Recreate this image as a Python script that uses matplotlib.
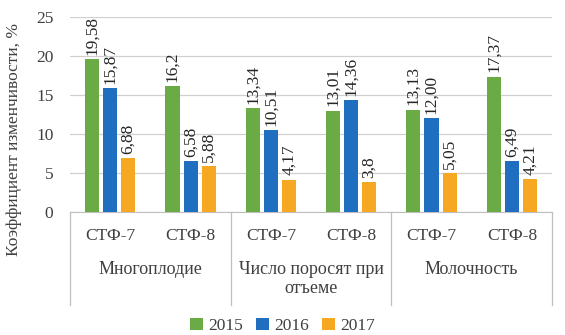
import numpy as np
import matplotlib.pyplot as plt
import matplotlib.transforms as mtransforms

plt.rcParams['font.family'] = ['Liberation Serif', 'DejaVu Serif']

groups = ['Многоплодие', 'Число поросят при\nотъеме', 'Молочность']
subgroups = ['СТФ-7', 'СТФ-8']
years = ['2015', '2016', '2017']
v2015 = [19.58, 16.2, 13.34, 13.01, 13.13, 17.37]
v2016 = [15.87, 6.58, 10.51, 14.36, 12.00, 6.49]
v2017 = [6.88, 5.88, 4.17, 3.8, 5.05, 4.21]
labels2015 = ['19,58', '16,2', '13,34', '13,01', '13,13', '17,37']
labels2016 = ['15,87', '6,58', '10,51', '14,36', '12,00', '6,49']
labels2017 = ['6,88', '5,88', '4,17', '3,8', '5,05', '4,21']

colors = ['#6AAB45', '#1F6EC0', '#F7A823']
fs = 12.5

fig = plt.figure(figsize=(5.65, 3.35), dpi=100)
ax = fig.add_axes([0.124, 0.367, 0.853, 0.582])

x = np.arange(len(v2015))
width = 0.175
step = 0.225
series = [v2015, v2016, v2017]
texts = [labels2015, labels2016, labels2017]
for i, (vals, lbls) in enumerate(zip(series, texts)):
    pos = x + (i - 1) * step
    bars = ax.bar(pos, vals, width, color=colors[i], label=years[i], zorder=3)
    for b, t in zip(bars, lbls):
        ax.annotate(t, (b.get_x() + b.get_width() / 2, b.get_height()),
                    xytext=(0, 3), textcoords='offset points',
                    ha='center', va='bottom', rotation=90, fontsize=12.5, color='#262626')

ax.set_xlim(-0.5, len(v2015) - 0.5)
ax.set_ylim(0, 25)
ax.set_yticks([0, 5, 10, 15, 20, 25])
ax.tick_params(axis='y', length=0, pad=12, labelsize=fs, labelcolor='#404040')
ax.set_xticks([])
ax.grid(axis='y', color='#D0D0D0', linewidth=0.9, zorder=0)
for s in ['left', 'right', 'top']:
    ax.spines[s].set_visible(False)
ax.spines['bottom'].set_color('#BFBFBF')

# multi-level category axis
trans = mtransforms.blended_transform_factory(ax.transData, ax.transAxes)
for i, name in enumerate(subgroups * len(groups)):
    ax.text(i, -0.125, name, transform=trans, ha='center', va='center',
            fontsize=fs, color='#404040')
for g, name in enumerate(groups):
    ax.text(2 * g + 0.5, -0.25, name, transform=trans, ha='center', va='top',
            fontsize=13, color='#404040', linespacing=1.2)
for g in range(len(groups) + 1):
    ax.plot([2 * g - 0.5, 2 * g - 0.5], [0, -0.477], transform=trans,
            color='#BFBFBF', linewidth=0.9, clip_on=False)

fig.text(0.024, 0.585, 'Коэффициент изменчивости, %', rotation=90,
         ha='center', va='center', fontsize=fs, color='#404040')

fig.legend(loc='center', bbox_to_anchor=(0.5, 0.026), ncol=3, frameon=False,
           fontsize=fs, handlelength=0.7, handleheight=0.7, handletextpad=0.3,
           columnspacing=0.8, labelcolor='#404040')

fig.savefig('out.png', dpi=100)
